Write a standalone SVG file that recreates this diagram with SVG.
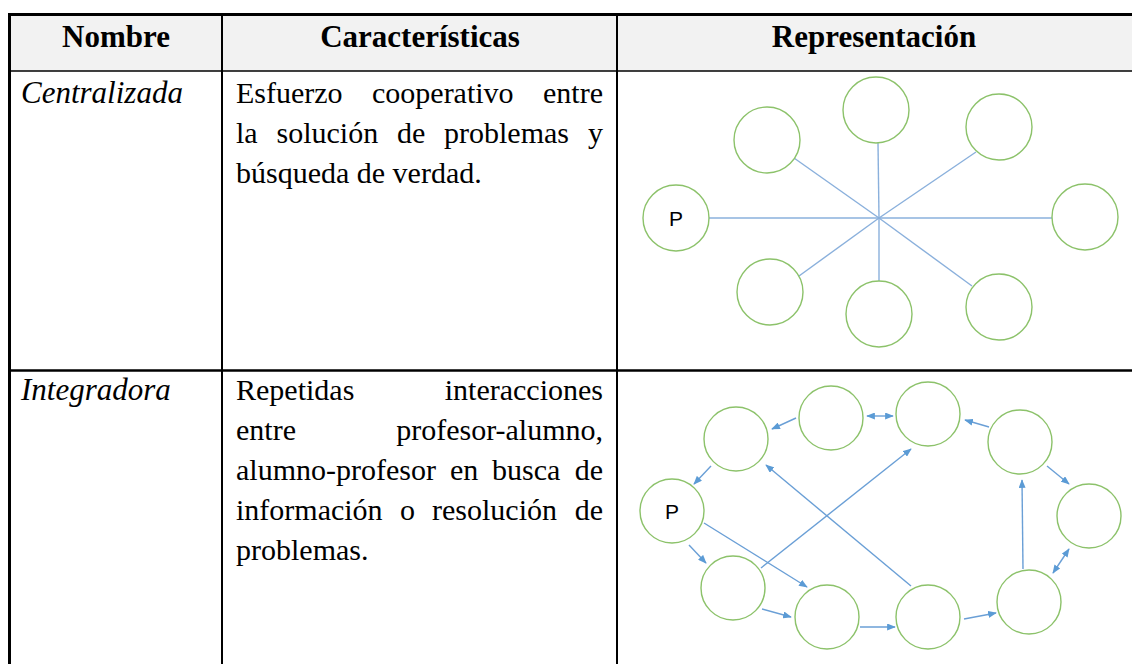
<svg xmlns="http://www.w3.org/2000/svg" width="1132" height="664" viewBox="0 0 1132 664">
<style>
.hd{font-family:"Liberation Serif","Times New Roman",serif;font-weight:bold;font-size:31px;fill:#000;text-anchor:middle}
.tx{font-family:"Liberation Serif","Times New Roman",serif;font-size:30px;fill:#000}
.it{font-family:"Liberation Serif","Times New Roman",serif;font-size:31px;font-style:italic;fill:#000}
.nd{fill:#fff;stroke:#8cc26a;stroke-width:1.4}
.pl{font-family:"Liberation Sans",Arial,sans-serif;font-size:21px;fill:#000;text-anchor:middle}
.ln{stroke:#8ab0dc;stroke-width:1.4;fill:none}
.ar{stroke:#6a9fd6;stroke-width:1.4;fill:none;marker-end:url(#ah)}
.ar2{stroke:#6a9fd6;stroke-width:1.4;fill:none;marker-end:url(#ah);marker-start:url(#ah)}
.bd{stroke:#000;fill:none}
</style>
<defs>
<marker id="ah" viewBox="0 0 10 8" refX="9" refY="4" markerWidth="9" markerHeight="7" markerUnits="userSpaceOnUse" orient="auto-start-reverse">
<path d="M0,0 L10,4 L0,8 z" fill="#5b9bd5"/>
</marker>
</defs>
<rect x="0" y="0" width="1132" height="664" fill="#fff"/>

<g id="table">
<rect x="9" y="14" width="1123" height="57" fill="#f2f2f2"/>
<line class="bd" x1="8" y1="14.5" x2="1132" y2="14.5" stroke-width="3"/>
<line class="bd" x1="9" y1="71" x2="1132" y2="71" stroke-width="1.6"/>
<line class="bd" x1="9" y1="370.5" x2="1132" y2="370.5" stroke-width="2.6"/>
<line class="bd" x1="9.5" y1="13" x2="9.5" y2="664" stroke-width="3"/>
<line class="bd" x1="222" y1="14" x2="222" y2="664" stroke-width="2"/>
<line class="bd" x1="617" y1="14" x2="617" y2="664" stroke-width="2"/>
</g>

<g id="header">
<text class="hd" x="116" y="47">Nombre</text>
<text class="hd" x="420" y="47">Características</text>
<text class="hd" x="874" y="47">Representación</text>
</g>

<g id="row1-name"><text class="it" x="21" y="103">Centralizada</text></g>
<g id="row1-desc">
<text class="tx" x="236" y="103">Esfuerzo</text>
<text class="tx" x="372" y="103">cooperativo</text>
<text class="tx" x="603" y="103" text-anchor="end">entre</text>
<text class="tx" x="236" y="143">la</text>
<text class="tx" x="276.5" y="143">solución</text>
<text class="tx" x="397" y="143">de</text>
<text class="tx" x="444" y="143">problemas</text>
<text class="tx" x="603" y="143" text-anchor="end">y</text>
<text class="tx" x="236" y="183">búsqueda de verdad.</text>
</g>

<g id="row2-name"><text class="it" x="21" y="400">Integradora</text></g>
<g id="row2-desc">
<text class="tx" x="236" y="400">Repetidas</text>
<text class="tx" x="603" y="400" text-anchor="end">interacciones</text>
<text class="tx" x="236" y="440">entre</text>
<text class="tx" x="603" y="440" text-anchor="end">profesor-alumno,</text>
<text class="tx" x="236" y="480">alumno-profesor</text>
<text class="tx" x="450" y="480">en</text>
<text class="tx" x="492" y="480">busca</text>
<text class="tx" x="603" y="480" text-anchor="end">de</text>
<text class="tx" x="236" y="520">información</text>
<text class="tx" x="400" y="520">o</text>
<text class="tx" x="432" y="520">resolución</text>
<text class="tx" x="603" y="520" text-anchor="end">de</text>
<text class="tx" x="236" y="560">problemas.</text>
</g>

<g id="central-connectors">
<line class="ln" x1="709" y1="218" x2="1052" y2="218"/>
<line class="ln" x1="878" y1="143" x2="879" y2="218"/>
<line class="ln" x1="879" y1="218" x2="879" y2="281"/>
<line class="ln" x1="794" y1="158" x2="879" y2="218"/>
<line class="ln" x1="879" y1="218" x2="972" y2="286"/>
<line class="ln" x1="976" y1="152" x2="879" y2="218"/>
<line class="ln" x1="879" y1="218" x2="799" y2="276"/>
</g>

<g id="central-P"><circle class="nd" cx="676" cy="218" r="33"/><text class="pl" x="676" y="226">P</text></g>
<g id="central-n1"><circle class="nd" cx="767" cy="140" r="33"/></g>
<g id="central-n2"><circle class="nd" cx="876" cy="110" r="33"/></g>
<g id="central-n3"><circle class="nd" cx="999" cy="127" r="33"/></g>
<g id="central-n4"><circle class="nd" cx="1085" cy="217" r="33"/></g>
<g id="central-n5"><circle class="nd" cx="770" cy="292" r="33"/></g>
<g id="central-n6"><circle class="nd" cx="879" cy="314" r="33"/></g>
<g id="central-n7"><circle class="nd" cx="999" cy="307" r="33"/></g>

<g id="integ-nodes">
<g id="integ-P"><circle class="nd" cx="672" cy="511" r="32"/><text class="pl" x="672" y="519">P</text></g>
<g id="integ-A"><circle class="nd" cx="736" cy="439" r="32"/></g>
<g id="integ-B"><circle class="nd" cx="831" cy="418" r="32"/></g>
<g id="integ-C"><circle class="nd" cx="928" cy="414" r="32"/></g>
<g id="integ-D"><circle class="nd" cx="1020" cy="442" r="32"/></g>
<g id="integ-E"><circle class="nd" cx="1089" cy="516" r="32"/></g>
<g id="integ-F"><circle class="nd" cx="733" cy="588" r="32"/></g>
<g id="integ-G"><circle class="nd" cx="827" cy="617" r="32"/></g>
<g id="integ-H"><circle class="nd" cx="928" cy="617" r="32"/></g>
<g id="integ-I"><circle class="nd" cx="1029" cy="602" r="32"/></g>
</g>

<g id="integ-connectors">
<line class="ar" x1="796" y1="418" x2="772" y2="429"/>
<line class="ar2" x1="867" y1="416" x2="893" y2="416"/>
<line class="ar" x1="989" y1="427" x2="965" y2="420"/>
<line class="ar" x1="1047" y1="466" x2="1069" y2="484"/>
<line class="ar" x1="711" y1="466" x2="694" y2="484"/>
<line class="ar" x1="689" y1="545" x2="706" y2="563"/>
<line class="ar" x1="704" y1="523" x2="807" y2="587"/>
<line class="ar" x1="761" y1="568" x2="911" y2="449"/>
<line class="ar" x1="911" y1="586" x2="766" y2="465"/>
<line class="ar" x1="762" y1="609" x2="791" y2="617"/>
<line class="ar" x1="860" y1="627" x2="895" y2="627"/>
<line class="ar" x1="964" y1="619" x2="996" y2="613"/>
<line class="ar" x1="1023" y1="569" x2="1022" y2="480"/>
<line class="ar2" x1="1053" y1="573" x2="1069" y2="549"/>
</g>
</svg>
